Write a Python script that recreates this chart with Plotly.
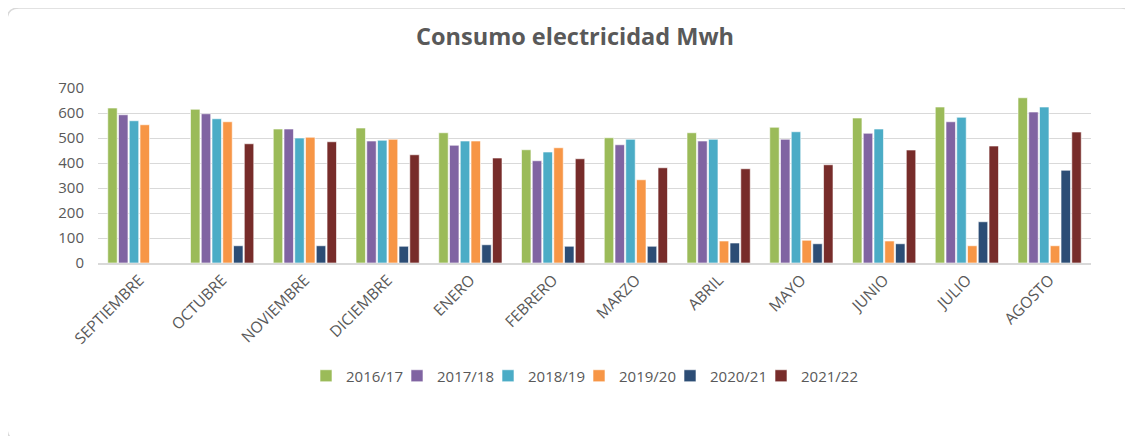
import plotly.graph_objects as go

months = ["SEPTIEMBRE", "OCTUBRE", "NOVIEMBRE", "DICIEMBRE", "ENERO", "FEBRERO",
          "MARZO", "ABRIL", "MAYO", "JUNIO", "JULIO", "AGOSTO"]

s2016_17 = [620, 615, 536, 540, 521, 453, 501, 521, 543, 580, 624, 661]
s2017_18 = [593, 597, 536, 488, 471, 409, 473, 488, 495, 519, 565, 604]
s2018_19 = [569, 577, 500, 491, 488, 444, 495, 495, 525, 536, 583, 624]
s2019_20 = [553, 565, 503, 495, 488, 461, 333, 88, 91, 88, 69, 69]
s2020_21 = [None, 69, 69, 67, 73, 67, 67, 80, 77, 77, 165, 371]
s2021_22 = [None, 477, 485, 433, 420, 417, 381, 377, 393, 452, 468, 524]

series = [
    ("2016/17", s2016_17, "#9BBB59"),
    ("2017/18", s2017_18, "#8064A2"),
    ("2018/19", s2018_19, "#4BACC6"),
    ("2019/20", s2019_20, "#F79646"),
    ("2020/21", s2020_21, "#2C4D75"),
    ("2021/22", s2021_22, "#772C2A"),
]

yticks = [0, 100, 200, 300, 400, 500, 600, 700]

fig = go.Figure()
for name, vals, color in series:
    fig.add_trace(go.Bar(
        x=months, y=vals, name=name,
        marker=dict(color=color, line=dict(color="rgba(255,255,255,0.6)", width=1)),
    ))
# invisible spacer entry so the last legend label is not clipped
fig.add_trace(go.Scatter(x=[None], y=[None], mode="markers", name=" ",
                         marker=dict(color="rgba(0,0,0,0)", size=1,
                                     line=dict(width=0, color="rgba(0,0,0,0)")),
                         hoverinfo="skip", showlegend=True))

# page body has an 8px margin: work in reference coords shifted by OFF
OFF = 8
W, H = 1133 - OFF, 436 - OFF
L, R, T, B = 98 - OFF, 42, 88 - OFF, 173
pw, ph = W - L - R, H - T - B

def px(x):
    return (x - OFF - L) / pw

def py(y):
    return (H - B - (y - OFF)) / ph

fig.update_layout(
    width=W, height=H,
    margin=dict(l=L, r=R, t=T, b=B),
    paper_bgcolor="white", plot_bgcolor="white",
    barmode="group", bargap=0.22, bargroupgap=0.12,
    title=dict(text="<b>Consumo electricidad Mwh</b>", x=px(575), xref="paper",
               xanchor="center", y=1 - (37 - OFF) / H, yanchor="middle",
               font=dict(family="Open Sans", size=23.5, color="#595959")),
    font=dict(family="Open Sans", color="#595959"),
    legend=dict(orientation="h", x=px(306), xanchor="left",
                y=py(376), yanchor="middle",
                font=dict(family="Open Sans", size=15, color="#595959"),
                itemwidth=30, entrywidth=46, traceorder="normal"),
    xaxis=dict(tickangle=-45, showgrid=False, showline=True, linecolor="#d9d9d9",
               linewidth=2, ticks="", tickfont=dict(family="Open Sans", size=15.5, color="#595959")),
    yaxis=dict(range=[0, 700], tickvals=yticks, showgrid=True, gridcolor="#d9d9d9",
               gridwidth=1, zeroline=False, showline=False, ticks="",
               ticklabelstandoff=13,
               tickfont=dict(family="Open Sans", size=15, color="#595959")),
    shapes=[dict(type="path", xref="paper", yref="paper",
                 path=(f"M {px(7)},{py(20)} Q {px(7)},{py(8)} {px(19)},{py(8)} "
                       f"L {px(1121)},{py(8)} Q {px(1133)},{py(8)} {px(1133)},{py(20)} "
                       f"L {px(1133)},{py(428)} Q {px(1133)},{py(440)} {px(1121)},{py(440)} "
                       f"L {px(19)},{py(440)} Q {px(7)},{py(440)} {px(7)},{py(428)} Z"),
                 line=dict(color="#d9d9d9", width=1.5), layer="below")],
)

fig.write_html("out.html")
